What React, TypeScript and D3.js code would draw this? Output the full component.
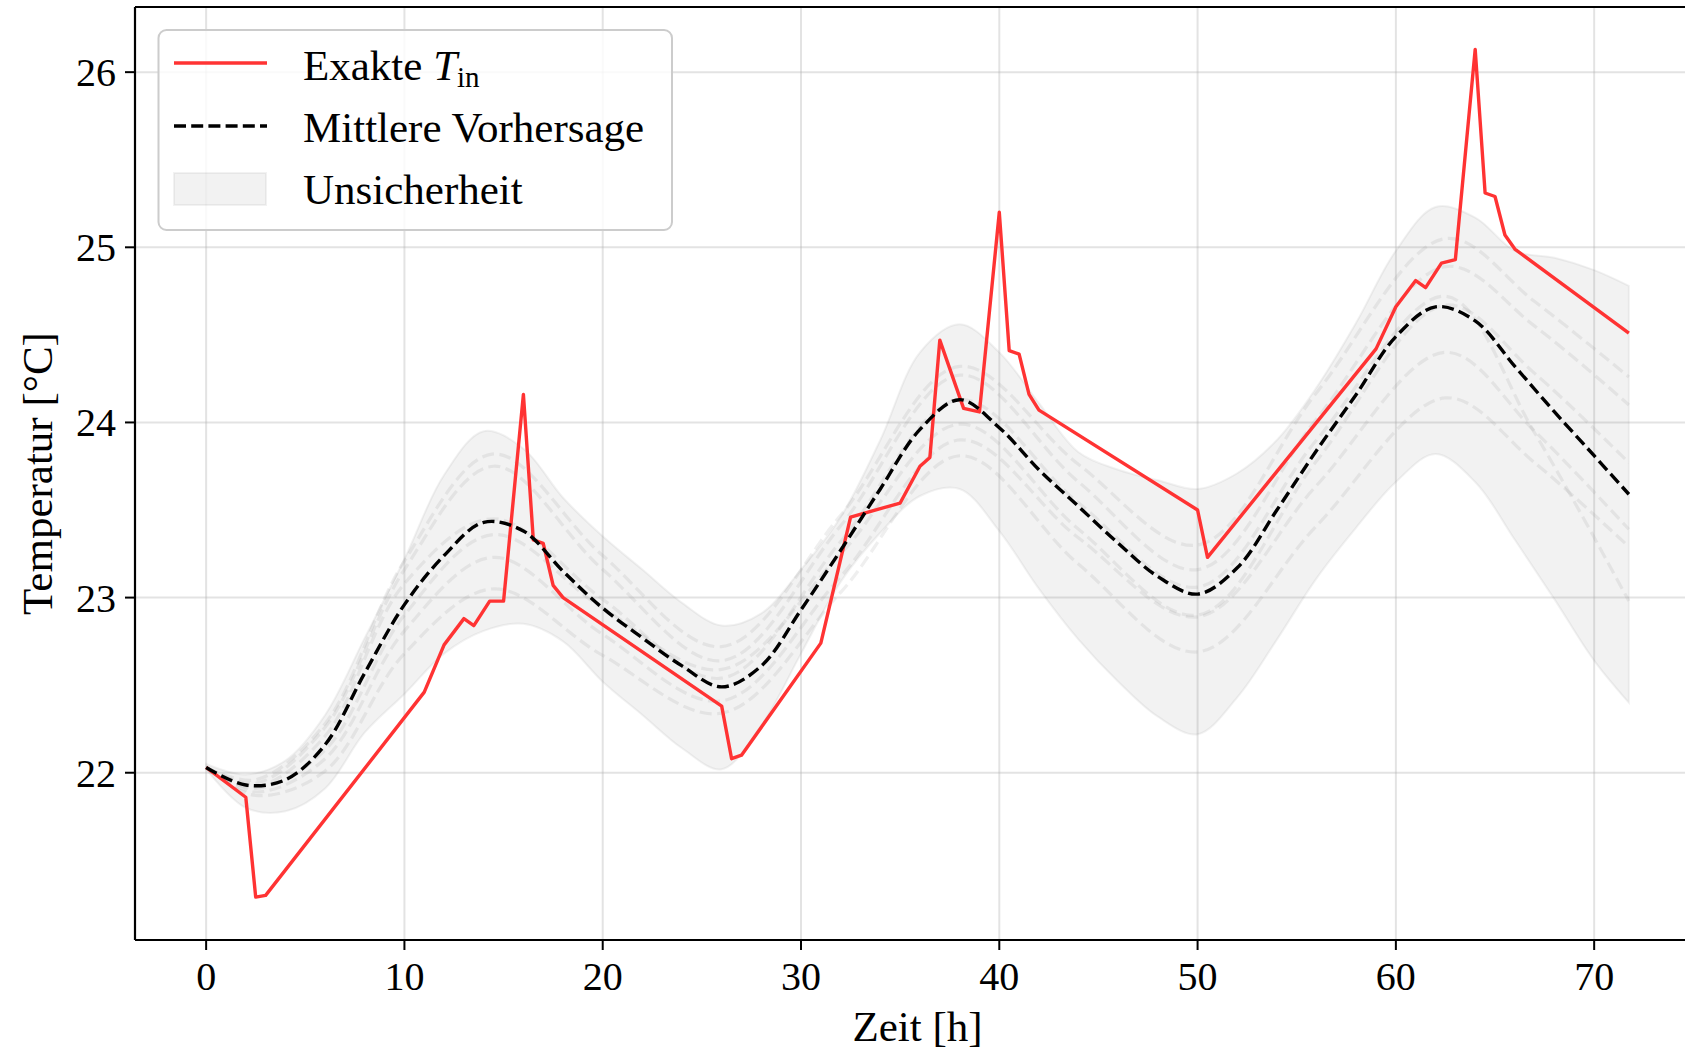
import React from 'react'
import * as d3 from 'd3'

const W = 1685
const H = 1054
const plot = { left: 135, right: 1700, top: 7, bottom: 940 }
const FONT = "'Liberation Serif', 'DejaVu Serif', serif"

// Exakte T_in (stückweise linear)
const exactHours = [0, 2, 2.5, 3, 11, 12, 13, 13.5, 14.3, 15, 16, 16.5, 17, 17.5, 18, 26, 26.5, 27, 31, 32.5, 35, 36, 36.5, 37, 38.2, 39, 40, 40.5, 41, 41.5, 42, 50, 50.5, 59, 60, 61, 61.5, 62.3, 63, 64, 64.5, 65, 65.5, 66, 71.75]
const exactTemp = [22.03, 21.86, 21.29, 21.3, 22.46, 22.73, 22.88, 22.84, 22.98, 22.98, 24.16, 23.33, 23.31, 23.07, 23.0, 22.38, 22.08, 22.1, 22.74, 23.46, 23.54, 23.75, 23.8, 24.47, 24.08, 24.06, 25.2, 24.41, 24.39, 24.16, 24.07, 23.5, 23.23, 24.42, 24.66, 24.81, 24.77, 24.91, 24.93, 26.13, 25.31, 25.29, 25.07, 24.99, 24.51]

// Mittlere Vorhersage und Unsicherheitsband
const gridHours = [0, 2, 4, 6, 8, 10, 12, 14, 16, 18, 20, 22, 24, 26, 28, 30, 32, 34, 36, 38, 40, 42, 44, 46, 48, 50, 52, 54, 56, 58, 60, 62, 64, 66, 68, 70, 71.75]
const meanTemp = [22.03, 21.93, 21.96, 22.16, 22.57, 22.96, 23.24, 23.43, 23.38, 23.15, 22.94, 22.77, 22.61, 22.49, 22.61, 22.93, 23.27, 23.62, 23.96, 24.13, 23.97, 23.73, 23.52, 23.31, 23.12, 23.02, 23.17, 23.5, 23.84, 24.16, 24.49, 24.66, 24.58, 24.32, 24.06, 23.81, 23.59]
const upperTemp = [22.05, 21.99, 22.07, 22.33, 22.77, 23.22, 23.7, 23.95, 23.85, 23.57, 23.35, 23.16, 22.97, 22.84, 22.91, 23.16, 23.46, 23.9, 24.4, 24.56, 24.4, 24.11, 23.83, 23.73, 23.67, 23.62, 23.71, 23.9, 24.2, 24.57, 24.98, 25.23, 25.17, 24.98, 24.94, 24.87, 24.78]
const lowerTemp = [22.02, 21.8, 21.78, 21.91, 22.23, 22.45, 22.68, 22.81, 22.85, 22.75, 22.52, 22.33, 22.14, 22.02, 22.27, 22.68, 23.09, 23.37, 23.58, 23.62, 23.38, 23.05, 22.76, 22.52, 22.32, 22.22, 22.43, 22.76, 23.11, 23.4, 23.66, 23.82, 23.66, 23.33, 22.99, 22.64, 22.4]

// einzelne Vorhersage-Läufe (hellgrau gestrichelt)
const memberHours = [0, 2.5, 6, 10, 14.5, 20, 26, 32, 38, 44, 50, 56, 62.5, 67, 71.75]
const memberA = [22.03, 21.96, 22.28, 23.21, 23.82, 23.24, 22.72, 23.47, 24.32, 23.76, 23.3, 24.17, 25.05, 24.69, 24.26]
const memberB = [22.03, 21.94, 22.26, 23.16, 23.75, 23.16, 22.64, 23.41, 24.27, 23.66, 23.16, 24.02, 24.89, 24.55, 24.1]
const memberC = [22.03, 21.91, 22.13, 22.9, 23.36, 22.94, 22.59, 23.25, 23.99, 23.39, 22.9, 23.78, 24.67, 24.28, 23.77]
const memberD = [22.03, 21.89, 22.08, 22.81, 23.23, 22.79, 22.41, 23.12, 23.9, 23.34, 22.89, 23.64, 24.4, 23.95, 23.39]
const memberE = [22.03, 21.87, 22.01, 22.68, 23.05, 22.67, 22.34, 23.03, 23.81, 23.19, 22.69, 23.41, 24.14, 23.77, 23.29]
const memberF = [22.03, 21.92, 22.21, 23.08, 23.45, 22.99, 22.54, 23.32, 24.13, 23.54, 23.06, 23.9, 24.72, 23.94, 22.98]
const members = [memberA, memberB, memberC, memberD, memberE, memberF]

const xTicks = [0, 10, 20, 30, 40, 50, 60, 70]
const yTicks = [22, 23, 24, 25, 26]

const App = () => {
    const x = d3.scaleLinear().domain([-3.5875, 75.3375]).range([plot.left, plot.right])
    const y = d3.scaleLinear().domain([21.045, 26.372]).range([plot.bottom, plot.top])

    const band = d3.area<number>()
        .x((d, i) => x(gridHours[i]))
        .y0((d, i) => y(lowerTemp[i]))
        .y1((d, i) => y(upperTemp[i]))
        .curve(d3.curveCatmullRom.alpha(0.5))

    const smooth = (hours: number[]) => d3.line<number>()
        .x((d, i) => x(hours[i]))
        .y((d) => y(d))
        .curve(d3.curveCatmullRom.alpha(0.5))

    const exactLine = d3.line<number>()
        .x((d, i) => x(exactHours[i]))
        .y((d) => y(d))

    return (
        <svg width={W} height={H} style={{ position: 'absolute', left: 0, top: 0, background: '#fff' }}
            fontFamily={FONT}>
            <rect x={0} y={0} width={W} height={H} fill="#fff" />

            {/* Gitter */}
            {xTicks.map(t => (
                <line key={'gx' + t} x1={x(t)} x2={x(t)} y1={plot.top} y2={plot.bottom}
                    stroke="#b0b0b0" strokeOpacity={0.35} strokeWidth={2} />
            ))}
            {yTicks.map(t => (
                <line key={'gy' + t} x1={plot.left} x2={plot.right} y1={y(t)} y2={y(t)}
                    stroke="#b0b0b0" strokeOpacity={0.35} strokeWidth={2} />
            ))}

            {/* Unsicherheit */}
            <path d={band(gridHours) || ''} fill="#808080" fillOpacity={0.1}
                stroke="#808080" strokeOpacity={0.1} strokeWidth={2} />
            {members.map((m, i) => (
                <path key={'m' + i} d={smooth(memberHours)(m) || ''} fill="none"
                    stroke="#808080" strokeOpacity={0.13} strokeWidth={3.2} strokeDasharray="12 5.5" />
            ))}

            {/* Exakte T_in */}
            <path d={exactLine(exactTemp) || ''} fill="none" stroke="#ff3333" strokeWidth={3.4}
                strokeLinejoin="round" />

            {/* Mittlere Vorhersage */}
            <path d={smooth(gridHours)(meanTemp) || ''} fill="none" stroke="#000" strokeWidth={3.4}
                strokeDasharray="12 5.2" />

            {/* Achsen */}
            <line x1={plot.left} x2={plot.right} y1={plot.bottom} y2={plot.bottom} stroke="#000" strokeWidth={2.2} />
            <line x1={plot.left} x2={plot.right} y1={plot.top} y2={plot.top} stroke="#000" strokeWidth={2.2} />
            <line x1={plot.left} x2={plot.left} y1={plot.top} y2={plot.bottom} stroke="#000" strokeWidth={2.2} />

            {xTicks.map(t => (
                <g key={'tx' + t}>
                    <line x1={x(t)} x2={x(t)} y1={plot.bottom} y2={plot.bottom + 10} stroke="#000" strokeWidth={2} />
                    <text x={x(t)} y={990} fontSize={40} textAnchor="middle">{t}</text>
                </g>
            ))}
            {yTicks.map(t => (
                <g key={'ty' + t}>
                    <line x1={plot.left - 10} x2={plot.left} y1={y(t)} y2={y(t)} stroke="#000" strokeWidth={2} />
                    <text x={116} y={y(t) + 14} fontSize={40} textAnchor="end">{t}</text>
                </g>
            ))}

            <text x={(plot.left + plot.right) / 2} y={1041} fontSize={43} textAnchor="middle">Zeit [h]</text>
            <text transform={`translate(52, ${(plot.top + plot.bottom) / 2}) rotate(-90)`} fontSize={43}
                textAnchor="middle">Temperatur [°C]</text>

            {/* Legende */}
            <rect x={158.5} y={30} width={513.5} height={200} rx={8} fill="#fff" fillOpacity={0.8}
                stroke="#cccccc" strokeWidth={2} />
            <line x1={174} x2={267} y1={63} y2={63} stroke="#ff3333" strokeWidth={3.4} />
            <text x={303} y={80} fontSize={43}>
                <tspan>Exakte </tspan>
                <tspan fontStyle="italic">T</tspan>
                <tspan fontSize={29} dy={7}>in</tspan>
            </text>
            <line x1={174} x2={267} y1={126} y2={126} stroke="#000" strokeWidth={3.4} strokeDasharray="12 5.2" />
            <text x={303} y={142} fontSize={43}>Mittlere Vorhersage</text>
            <rect x={174} y={173} width={92} height={32} fill="#808080" fillOpacity={0.1}
                stroke="#808080" strokeOpacity={0.1} strokeWidth={2} />
            <text x={303} y={204} fontSize={43}>Unsicherheit</text>
        </svg>
    )
}

export default App
